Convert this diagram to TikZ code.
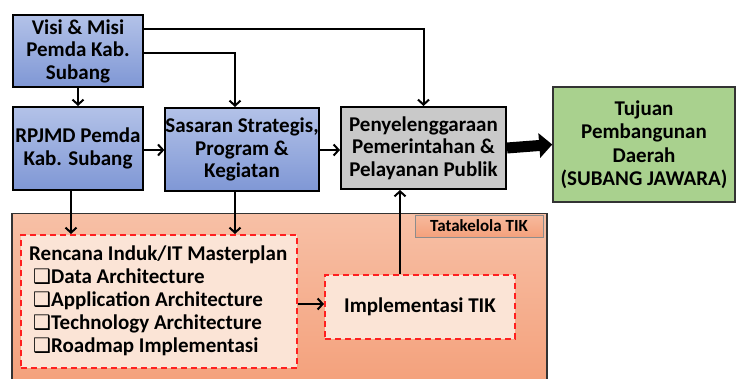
\documentclass[tikz,border=0pt]{standalone}
\usepackage{fontspec}
\setmainfont{Carlito}
\newfontfamily\symfont{DejaVu Sans}
\usetikzlibrary{arrows.meta,positioning,calc}
\definecolor{bluetop}{HTML}{B3C2E8}
\definecolor{bluebot}{HTML}{7F97D5}
\definecolor{grayfill}{HTML}{C9C9C9}
\definecolor{greenfill}{HTML}{A9D18E}
\definecolor{orangetop}{HTML}{F7C0A6}
\definecolor{orangebot}{HTML}{F4A17C}
\definecolor{creamfill}{HTML}{FBE4D6}
\definecolor{dashred}{HTML}{FF1F1F}
\newcommand{\cbx}{{\symfont\fontsize{20}{20}\selectfont ❑}}
\begin{document}
\begin{tikzpicture}[x=1pt,y=-1pt,
  every node/.style={font=\fontsize{21}{22.5}\selectfont\bfseries, align=center, inner sep=0pt},
  bluebox/.style={draw=black, line width=2pt, rectangle, top color=bluetop, bottom color=bluebot},
  solidbox/.style={draw=black, line width=2pt, rectangle},
  dashbox/.style={draw=dashred, line width=2pt, dash pattern=on 6pt off 4pt, fill=creamfill, rectangle},
  conn/.style={draw=black, line width=2pt, -{Straight Barb[length=5pt,width=11pt,line width=2pt]}}
]
\useasboundingbox (0,0) rectangle (737,379);
% orange background
\node[draw=black!80, line width=1.5pt, rectangle, top color=orangetop, bottom color=orangebot,
  minimum width=535pt, minimum height=168pt, anchor=north west] (tik) at (11,213) {};
\node[draw=black!45, line width=0.6pt, rectangle, top color=orangetop!80!orangebot, bottom color=orangebot,
  minimum width=128pt, minimum height=22pt, font=\fontsize{17}{19}\selectfont\bfseries] (tata) at (479,226) {Tatakelola TIK};

% top boxes
\node[bluebox, minimum width=130pt, minimum height=72pt] (visi) at (78,51) {Visi \& Misi\\Pemda Kab.\\Subang};
\node[bluebox, minimum width=130pt, minimum height=83pt] (rpjmd) at (78,148.5) {RPJMD Pemda\\Kab. Subang};
\node[bluebox, minimum width=148pt, minimum height=83pt] (sas) at (242,149.5) {Sasaran Strategis,\\Program \&\\Kegiatan};
\node[solidbox, fill=grayfill, minimum width=165pt, minimum height=82pt] (peny) at (423.5,148) {Penyelenggaraan\\Pemerintahan \&\\Pelayanan Publik};
\node[draw=black!80, line width=1.5pt, rectangle, fill=greenfill, minimum width=182pt, minimum height=115pt, font=\fontsize{21}{23.5}\selectfont\bfseries] (tuj) at (644,144.5) {Tujuan\\Pembangunan\\Daerah\\(SUBANG JAWARA)};

% dashed boxes
\node[dashbox, minimum width=276pt, minimum height=133pt] (ren) at (159,301.5) {};
\node[anchor=north west, align=left, font=\fontsize{21}{23}\selectfont\bfseries] (rentext) at (29,246)
  {Rencana Induk/IT Masterplan\\
   \hspace*{4pt}\cbx Data Architecture\\
   \hspace*{4pt}\cbx Application Architecture\\
   \hspace*{4pt}\cbx Technology Architecture\\
   \hspace*{4pt}\cbx Roadmap Implementasi};
\node[dashbox, minimum width=190pt, minimum height=64pt] (impl) at (420,307) {Implementasi TIK};

% connectors
\draw[conn] (visi.south) -- (rpjmd.north);
\draw[conn] ([yshift=-2pt]visi.east) -| ([xshift=-7pt]sas.north);
\draw[conn] ([yshift=22pt]visi.east) -| (peny.north);
\draw[conn] ([yshift=-1.5pt]rpjmd.east) -- ([yshift=-1.5pt]rpjmd.east -| sas.west);
\draw[conn] ([yshift=-2pt]peny.west -| sas.east) -- ([yshift=-2pt]peny.west);
\draw[conn] ([xshift=-7pt]rpjmd.south) -- ([xshift=-7pt]rpjmd.south |- ren.north);
\draw[conn] ([xshift=-7pt]sas.south) -- ([xshift=-7pt]sas.south |- ren.north);
\draw[conn] ([yshift=-2.5pt]ren.east) -- ([yshift=-2.5pt]ren.east -| impl.west);
\draw[conn] ([xshift=-20pt]impl.north) -- ([xshift=-20pt]impl.north |- peny.south);
\draw[line width=11pt, -{Triangle[length=13pt,width=24pt]}] (peny.east) -- (tuj.west);
\end{tikzpicture}
\end{document}
